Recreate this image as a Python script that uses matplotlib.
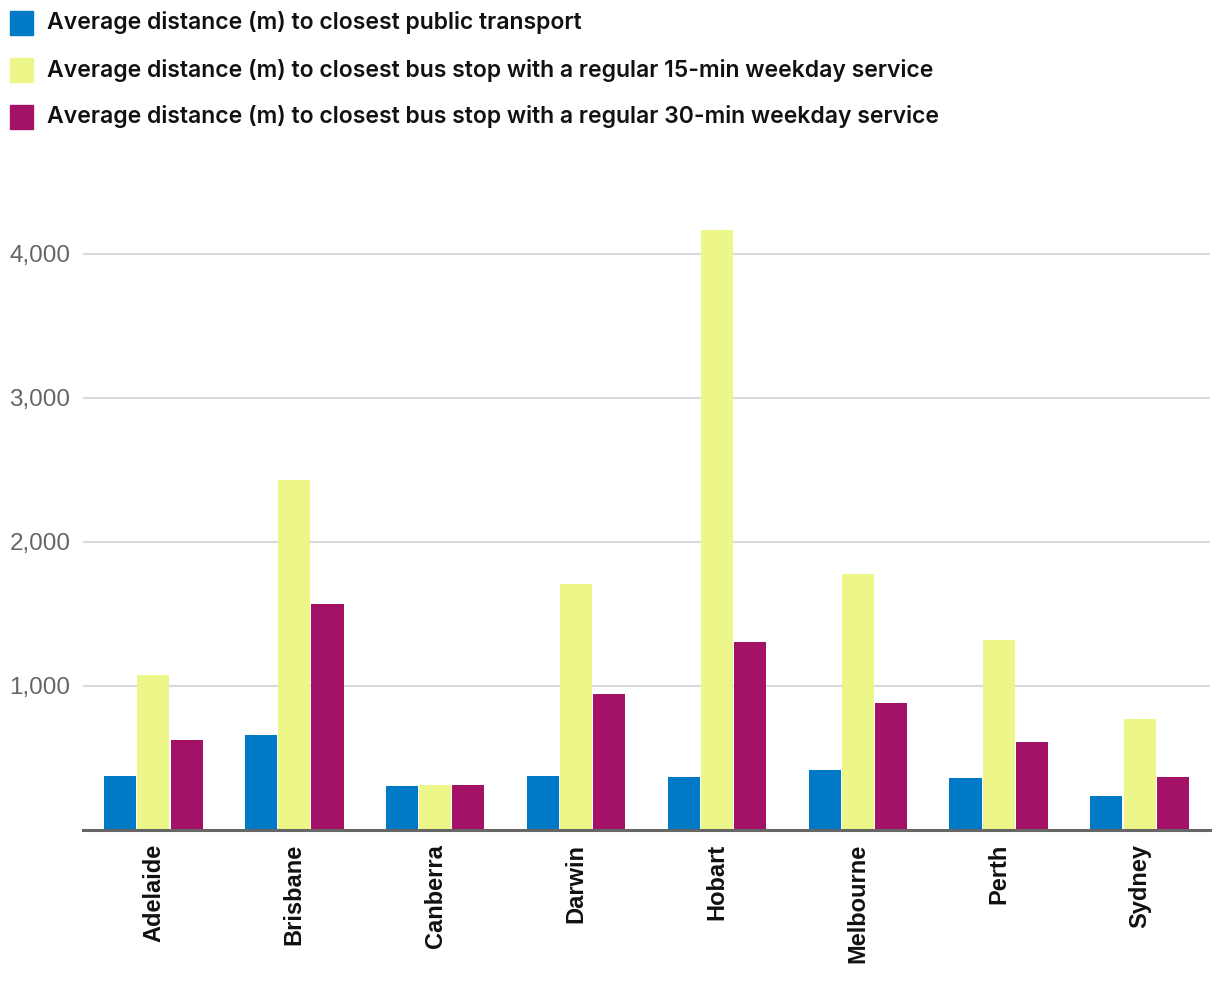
import matplotlib
matplotlib.use("Agg")
import matplotlib.pyplot as plt
import numpy as np
from matplotlib.patches import Rectangle
from matplotlib.ticker import FuncFormatter

cities = ["Adelaide", "Brisbane", "Canberra", "Darwin", "Hobart", "Melbourne", "Perth", "Sydney"]
public_transport = [372, 658, 303, 378, 370, 420, 362, 238]
bus_15min = [1073, 2427, 310, 1705, 4165, 1775, 1322, 768]
bus_30min = [622, 1568, 310, 942, 1302, 885, 608, 370]

series_names = [
    "Average distance (m) to closest public transport",
    "Average distance (m) to closest bus stop with a regular 15-min weekday service",
    "Average distance (m) to closest bus stop with a regular 30-min weekday service",
]
colors = ["#0079C6", "#EDF688", "#A41267"]
yticks = [1000, 2000, 3000, 4000]

W, H = 1220, 1008
fig = plt.figure(figsize=(W / 100, H / 100), dpi=100)
ax = fig.add_axes([83 / W, 1 - 830 / H, (1210 - 83) / W, (830 - 225) / H])

x = np.arange(len(cities))
bw = 0.228
series = [public_transport, bus_15min, bus_30min]
for i, (vals, c) in enumerate(zip(series, colors)):
    ax.bar(x + (i - 1) * (bw + 0.008), vals, width=bw, color=c, zorder=3, linewidth=0)

ax.set_xlim(-0.5, len(cities) - 0.5)
ax.set_ylim(0, 4200)
ax.set_yticks(yticks)
ax.yaxis.set_major_formatter(FuncFormatter(lambda v, p: f"{int(v):,}"))
ax.grid(axis="y", color="#d9d9d9", linewidth=1.5, zorder=0)
ax.tick_params(axis="y", length=0, pad=9, labelsize=17.5, labelcolor="#666666")
for lab in ax.get_yticklabels():
    lab.set_family(["Liberation Sans", "DejaVu Sans"])
ax.set_xticks(x)
ax.set_xticklabels(cities, rotation=90, fontsize=17, fontweight="bold",
                   family=["Liberation Sans", "DejaVu Sans"], color="#111111")
ax.tick_params(axis="x", length=0, pad=10)
for s in ["top", "right", "left"]:
    ax.spines[s].set_visible(False)
ax.spines["bottom"].set_color("#666666")
ax.spines["bottom"].set_linewidth(2.2)
ax.spines["bottom"].set_zorder(4)

# Legend
rows_y = [23, 70, 117]
texts = []
for name, c, yy in zip(series_names, colors, rows_y):
    fig.patches.append(Rectangle((10 / W, 1 - (yy + 11.5) / H), 23 / W, 23 / H,
                                 transform=fig.transFigure, color=c, figure=fig))
    t = fig.text(47 / W, 1 - yy / H, name, fontsize=15, fontweight="semibold",
                 family=["Inter", "DejaVu Sans"], va="center", ha="left", color="#111111")
    texts.append(t)

# fit legend text width to the reference (longest line ends near x=940)
fig.canvas.draw()
r = fig.canvas.get_renderer()
wmax = max(t.get_window_extent(r).width for t in texts)
fs = 15 * (940 - 47) / wmax
for t in texts:
    t.set_fontsize(fs)

fig.savefig("out.png", dpi=100, facecolor="white")
